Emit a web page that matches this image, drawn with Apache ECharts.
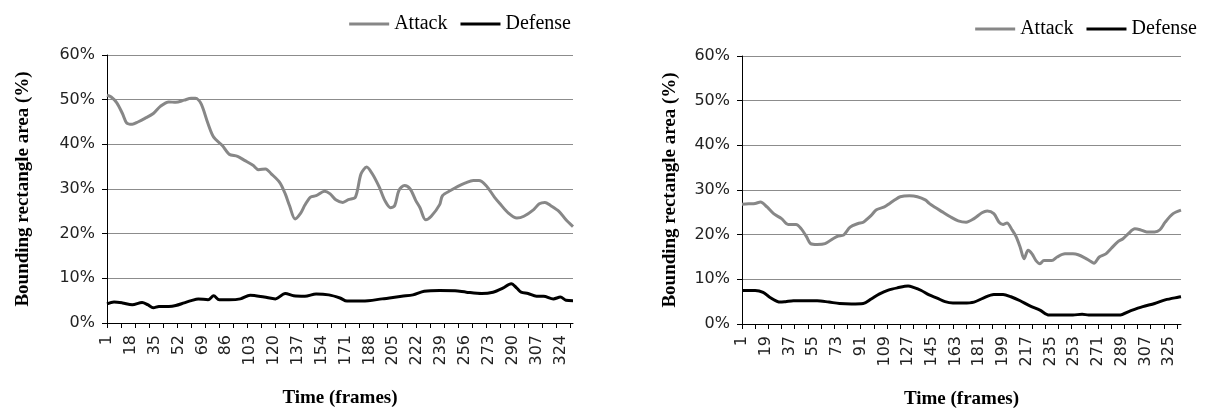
<!DOCTYPE html>
<html>
<head>
<meta charset="utf-8">
<script src="https://cdn.jsdelivr.net/npm/echarts@6/dist/echarts.min.js"></script>
<style>
html, body { margin: 0; padding: 0; background: #fff; }
#chart { width: 1207px; height: 410px; }
</style>
</head>
<body>
<div id="chart"></div>
<script>
// [frame, percent]
var leftAttack = [[1,51.0],[4,50.6],[8,49.3],[12,46.9],[15,44.8],[19,44.5],[23,45.0],[28,45.8],[34,46.9],[39,48.5],[45,49.5],[50,49.4],[56,49.9],[61,50.3],[64,50.3],[68,49.1],[73,44.6],[77,41.6],[83,39.8],[88,37.8],[94,37.3],[99,36.4],[105,35.3],[109,34.3],[114,34.5],[118,33.4],[124,31.5],[128,28.9],[131,26.3],[135,23.3],[139,24.6],[142,26.4],[146,28.2],[150,28.5],[156,29.5],[160,28.9],[164,27.6],[169,27.0],[173,27.6],[178,28.2],[182,33.4],[186,34.9],[190,33.4],[195,30.4],[199,27.4],[203,25.8],[206,26.3],[209,29.7],[213,30.8],[217,30.0],[221,27.4],[224,25.8],[228,23.1],[232,23.9],[238,26.5],[240,28.5],[246,29.7],[251,30.6],[256,31.3],[262,31.9],[266,31.9],[271,30.8],[277,28.2],[281,26.7],[287,24.6],[293,23.5],[298,23.9],[305,25.4],[309,26.7],[313,27.0],[317,26.3],[323,25.0],[328,23.1],[333,21.6]];
var leftDefense = [[1,4.3],[6,4.7],[12,4.5],[19,4.1],[26,4.6],[30,4.1],[34,3.4],[38,3.7],[45,3.7],[50,3.9],[56,4.5],[61,5.0],[66,5.4],[73,5.2],[77,6.1],[81,5.2],[88,5.2],[96,5.4],[103,6.2],[113,5.8],[121,5.4],[128,6.6],[134,6.1],[142,6.0],[150,6.5],[159,6.3],[167,5.6],[172,4.9],[183,4.9],[197,5.4],[211,6.0],[219,6.3],[227,7.1],[238,7.3],[249,7.2],[257,6.9],[268,6.6],[276,6.9],[283,7.8],[289,8.8],[293,7.8],[296,6.9],[301,6.6],[307,6.0],[312,6.0],[319,5.4],[324,5.8],[328,5.1],[333,5.0]];
var rightAttack = [[1,26.8],[6,26.9],[11,27.0],[15,27.3],[20,26.2],[25,24.7],[31,23.6],[36,22.3],[42,22.3],[46,21.3],[50,19.5],[53,18.0],[58,17.8],[64,18.0],[70,19.1],[74,19.7],[78,19.9],[83,21.7],[89,22.5],[93,22.8],[99,24.3],[103,25.6],[109,26.2],[113,27.0],[117,27.8],[121,28.5],[128,28.7],[134,28.5],[140,27.8],[143,27.0],[147,26.2],[153,25.1],[159,24.0],[165,23.1],[171,22.8],[177,23.6],[183,24.9],[187,25.3],[192,24.7],[196,22.8],[199,22.3],[202,22.6],[206,21.0],[209,19.5],[212,17.2],[215,14.6],[218,16.5],[221,15.7],[224,14.2],[227,13.5],[230,14.2],[236,14.2],[240,15.0],[246,15.7],[252,15.7],[256,15.5],[261,14.8],[265,14.1],[268,13.6],[272,15.0],[277,15.7],[281,16.9],[286,18.4],[290,19.1],[294,20.2],[299,21.3],[303,21.1],[308,20.6],[314,20.6],[318,21.1],[322,22.8],[328,24.7],[334,25.5]];
var rightDefense = [[1,7.5],[11,7.5],[17,7.1],[22,6.0],[30,4.9],[34,5.0],[40,5.2],[49,5.2],[58,5.2],[67,4.9],[75,4.6],[84,4.5],[93,4.6],[99,5.6],[105,6.7],[112,7.6],[119,8.1],[127,8.5],[131,8.2],[137,7.5],[143,6.5],[149,5.8],[155,5.0],[161,4.7],[169,4.7],[177,4.9],[184,5.8],[192,6.6],[199,6.6],[205,6.1],[212,5.2],[219,4.1],[227,3.1],[234,2.0],[243,2.0],[252,2.0],[259,2.2],[264,2.0],[275,2.0],[287,2.0],[296,3.0],[305,3.9],[314,4.6],[322,5.4],[334,6.1]];

var leftLabels = [1,18,35,52,69,86,103,120,137,154,171,188,205,222,239,256,273,290,307,324];
var rightLabels = [1,19,37,55,73,91,109,127,145,163,181,199,217,235,253,271,289,307,325];
var frameTicks = [1,11,21,31,41,51,61,71,81,91,101,111,121,131,141,151,161,171,181,191,201,211,221,231,241,251,261,271,281,291,301,311,321,331];

var titleFont = { fontFamily: "Liberation Serif", fontWeight: "bold", fontSize: 19, color: "#000" };

function xAxisFor(idx, maxFrame, labels) {
  return {
    type: "value",
    gridIndex: idx,
    min: 1,
    max: maxFrame,
    name: "Time (frames)",
    nameLocation: "middle",
    nameGap: 66,
    nameTextStyle: titleFont,
    axisLine: { show: true, lineStyle: { color: "#000", width: 1 } },
    axisTick: { show: true, customValues: frameTicks, length: 5, lineStyle: { color: "#000" } },
    axisLabel: { customValues: labels, rotate: 90, margin: 12, fontSize: 16, fontFamily: "DejaVu Sans", color: "#222" },
    splitLine: { show: false }
  };
}

function yAxisFor(idx, gap) {
  return {
    type: "value",
    gridIndex: idx,
    min: 0,
    max: 60,
    interval: 10,
    name: "Bounding rectangle area (%)",
    nameLocation: "middle",
    nameGap: gap,
    nameTextStyle: titleFont,
    axisLine: { show: true, lineStyle: { color: "#000", width: 1 } },
    axisTick: { show: true, length: 5, lineStyle: { color: "#000" } },
    axisLabel: { formatter: "{value}%", margin: 12, fontSize: 16, fontFamily: "DejaVu Sans", color: "#222" },
    splitLine: { show: true, lineStyle: { color: "#8c8c8c", width: 1 } }
  };
}

function lineSeries(name, data, idx, color) {
  return {
    name: name,
    type: "line",
    xAxisIndex: idx,
    yAxisIndex: idx,
    data: data,
    symbol: "none",
    smooth: 0.3,
    lineStyle: { color: color, width: 3 },
    itemStyle: { color: color }
  };
}

var legendText = { fontFamily: "Liberation Serif", fontSize: 20, color: "#000" };

var myChart = echarts.init(document.getElementById("chart"));
myChart.setOption({
  animation: false,
  backgroundColor: "#fff",
  legend: [
    { right: 631, top: 9, icon: "rect", itemWidth: 40, itemHeight: 3, itemGap: 13, textStyle: legendText, data: ["Attack", "Defense"] },
    { right: 5, top: 14, icon: "rect", itemWidth: 40, itemHeight: 3, itemGap: 13, textStyle: legendText, data: ["Attack", "Defense"] }
  ],
  grid: [
    { left: 107, right: 634, top: 55, bottom: 87, outerBoundsMode: "none" },
    { left: 742, right: 26, top: 56, bottom: 86, outerBoundsMode: "none" }
  ],
  xAxis: [xAxisFor(0, 333, leftLabels), xAxisFor(1, 334, rightLabels)],
  yAxis: [yAxisFor(0, 74), yAxisFor(1, 62)],
  series: [
    lineSeries("Attack", leftAttack, 0, "#878787"),
    lineSeries("Defense", leftDefense, 0, "#000"),
    lineSeries("Attack", rightAttack, 1, "#878787"),
    lineSeries("Defense", rightDefense, 1, "#000")
  ]
});
</script>
</body>
</html>
